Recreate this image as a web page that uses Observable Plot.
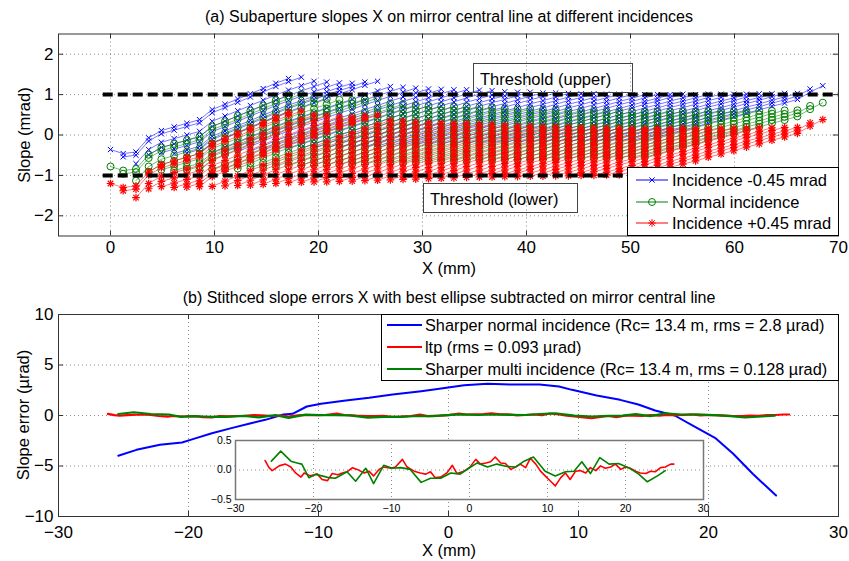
<!DOCTYPE html>
<html><head><meta charset="utf-8">
<script src="https://cdn.jsdelivr.net/npm/d3@7"></script>
<script src="https://cdn.jsdelivr.net/npm/@observablehq/plot@0.6"></script>
<style>
body{margin:0;background:#fff;}
#root{position:relative;width:849px;height:561px;overflow:hidden;background:#fff;font-family:"Liberation Sans",Arial,Helvetica,sans-serif;color:#000;}
#root svg{position:absolute;}
.lbl{position:absolute;white-space:nowrap;line-height:1;}
.box{position:absolute;box-sizing:border-box;border:1.5px solid #444;}
.legend{position:absolute;box-sizing:border-box;border:1px solid #000;background:#fff;}
</style></head><body><div id="root"></div>
<script>
// ---------- (a) subaperture slopes ----------
const columnX = [0,1.22,2.45,3.67,4.89,6.12,7.34,8.56,9.78,11.01,12.23,13.45,14.68,15.9,17.12,18.35,19.57,20.79,22.01,23.24,24.46,25.68,26.91,28.13,29.35,30.58,31.8,33.02,34.24,35.47,36.69,37.91,39.14,40.36,41.58,42.81,44.03,45.25,46.48,47.7,48.92,50.15,51.37,52.59,53.81,55.04,56.26,57.48,58.71,59.93,61.15,62.38,63.6,64.82,66.05,67.27,68.49];
const profileSlope = [-0.78,-0.88,-0.84,-0.49,-0.31,-0.22,-0.13,-0.04,0.21,0.34,0.47,0.60,0.73,0.86,0.98,1.09,1.20,1.31,1.42,1.52,1.63,1.73,1.84,1.94,2.04,2.14,2.24,2.34,2.44,2.53,2.62,2.70,2.79,2.88,2.96,3.05,3.14,3.22,3.31,3.39,3.48,3.56,3.65,3.73,3.82,3.90,3.98,4.07,4.15,4.23,4.32,4.40,4.49,4.57,4.66,4.84,5.00];
const subapertureTilt = [0,0.08,0.29,0.42,0.55,0.66,0.74,0.82,1.06,1.18,1.30,1.42,1.53,1.64,1.74,1.84,1.94,2.05,2.15,2.24,2.34,2.43,2.53,2.62,2.71,2.80,2.89,2.98,3.07,3.15,3.24,3.31,3.40,3.48,3.56,3.64,3.73,3.80,3.89,3.96,4.05,4.12,4.20];
const subapertureLength = 15;
const incidenceNames = ["Incidence -0.45 mrad","Normal incidence","Incidence +0.45 mrad"];
const incidenceShift = [0.42, 0, -0.42];
const incidenceColors = ["#0000ff","#008000","#ff0000"];
const thresholds = [1, -1];
const thresholdLabels = ["Threshold (upper)","Threshold (lower)"];
const topXTicks = [0,10,20,30,40,50,60,70];
const topYTicks = [-2,-1,0,1,2];

// ---------- (b) stitched slope errors ----------
const normalX = [-25.4,-24.0,-22.2,-20.5,-19.6,-18.2,-16.7,-15.2,-14.1,-12.7,-12.0,-10.9,-9.8,-7.9,-6.1,-4.3,-2.1,-0.7,1.2,3.0,4.8,7.0,8.5,9.5,11.4,13.2,14.6,15.9,17.4,19.0,20.5,21.9,23.4,25.2];
const normalY = [-3.99,-3.40,-2.90,-2.67,-2.31,-1.75,-1.25,-0.76,-0.43,0.10,0.17,0.89,1.16,1.49,1.75,2.08,2.41,2.64,3.00,3.14,3.07,3.07,2.87,2.54,1.98,1.55,1.09,0.50,0.00,-1.16,-2.21,-3.79,-5.77,-7.92];
const ltpX = [-26.2,-25.7,-25.3,-24.4,-23.6,-22.9,-22.3,-21.6,-21.2,-20.4,-19.5,-18.9,-18.2,-17.6,-16.9,-16.3,-15.7,-15.0,-14.4,-13.5,-12.9,-12.3,-11.6,-11.0,-10.1,-9.5,-8.6,-8.0,-7.1,-6.3,-5.6,-5.0,-4.4,-3.7,-2.9,-2.2,-1.6,-0.7,0.0,0.8,1.4,2.1,2.7,3.3,4.0,4.6,5.3,5.9,6.5,7.2,7.8,8.5,9.1,9.7,10.4,11.0,11.7,12.3,12.9,13.6,14.2,14.9,15.5,16.2,16.8,17.4,18.1,18.7,19.4,20.0,20.6,21.3,21.9,22.6,23.2,23.8,24.5,25.1,25.8,26.2];
const ltpY = [0.16,0.04,-0.01,0.07,0.10,0.05,-0.05,-0.12,-0.05,-0.10,-0.07,-0.16,-0.18,-0.06,-0.08,-0.05,-0.03,0.04,0.01,-0.05,-0.02,-0.10,0.01,0.05,0.03,0.05,0.18,0.05,-0.02,-0.05,-0.07,-0.03,-0.13,-0.12,-0.05,0.08,-0.06,-0.02,0.04,0.18,0.10,0.12,0.14,0.22,0.12,0.11,0.01,0.05,0.10,0.04,0.20,0.10,-0.02,-0.10,-0.19,-0.27,-0.13,-0.05,-0.16,-0.02,-0.01,-0.05,0.04,-0.01,0.07,0.03,0.05,0.10,0.01,0.05,0.03,-0.02,-0.05,-0.06,-0.02,-0.03,0.04,0.05,0.10,0.10];
const multiX = [-25.4,-24.2,-22.9,-22.1,-21.5,-20.6,-19.7,-18.9,-18.0,-17.2,-15.7,-14.6,-13.3,-12.3,-11.0,-9.9,-8.8,-7.6,-6.2,-5.0,-3.7,-2.4,-1.2,-0.1,1.0,2.3,3.5,4.8,5.9,7.0,8.2,9.7,11.0,12.3,13.4,14.4,15.5,16.7,17.9,19.1,20.4,21.7,22.8,24.1,25.1];
const multiY = [0.15,0.32,0.15,0.12,0.10,-0.13,-0.07,-0.10,-0.13,-0.14,-0.03,-0.19,0.03,-0.23,0.08,0.03,0.04,0.01,-0.21,-0.14,-0.14,-0.05,-0.07,0.03,0.12,0.05,0.10,0.06,0.05,0.15,0.22,-0.02,-0.10,-0.03,-0.02,0.14,-0.06,0.21,0.10,0.11,0.04,-0.07,-0.20,-0.10,-0.01];
const errorNames = ["Sharper normal incidence (Rc= 13.4 m, rms = 2.8 \u00b5rad)","ltp (rms = 0.093 \u00b5rad)","Sharper multi incidence (Rc= 13.4 m, rms = 0.128 \u00b5rad)"];
const errorColors = ["#0000ff","#ff0000","#008000"];
const botXTicks = [-30,-20,-10,0,10,20,30];
const botYTicks = [-10,-5,0,5,10];
const insetYTicks = [-0.5,0,0.5];

const root = document.getElementById("root");
const FONT = '"Liberation Sans", Arial, Helvetica, sans-serif';
const gridStyle = {stroke:"#000", strokeOpacity:0.45, strokeDasharray:"1,3", strokeWidth:1};

// ---- top plot data rows ----
const rows = [];
incidenceNames.forEach((name, s) => subapertureTilt.forEach((t, k) => {
  for (let j = k; j < Math.min(k + subapertureLength, columnX.length); j++)
    rows.push({s, k, x: columnX[j], y: profileSlope[j] - t + incidenceShift[s]});
}));
const seriesMarks = incidenceNames.flatMap((name, s) => {
  const d = rows.filter(r => r.s === s), c = incidenceColors[s];
  const m = [Plot.line(d, {x:"x", y:"y", z:"k", stroke:c, strokeWidth:0.9, strokeOpacity:0.6})];
  if (s === 0) m.push(Plot.dot(d, {x:"x", y:"y", symbol:"times", r:2.5, stroke:c, fill:"none", strokeWidth:1}));
  if (s === 1) m.push(Plot.dot(d, {x:"x", y:"y", symbol:"circle", r:3.5, stroke:c, fill:"none", strokeWidth:1}));
  if (s === 2) {
    m.push(Plot.dot(d, {x:"x", y:"y", symbol:"plus", r:2.6, stroke:c, fill:"none", strokeWidth:1.2}));
    m.push(Plot.dot(d, {x:"x", y:"y", symbol:"times", r:2.6, stroke:c, fill:"none", strokeWidth:1.2}));
  }
  return m;
});

const topPlot = Plot.plot({
  width:849, height:285, marginTop:33.5, marginBottom:49.5, marginLeft:58, marginRight:11,
  x:{domain:[-5,70]}, y:{domain:[-2.5,2.5]},
  style:{fontFamily:FONT, fontSize:"17px", background:"transparent", color:"#000", overflow:"visible"},
  marks:[
    Plot.gridX(topXTicks, gridStyle),
    Plot.gridY(topYTicks, gridStyle),
    ...seriesMarks,
    Plot.ruleY(thresholds, {x1:-0.7, x2:70, stroke:"#000", strokeWidth:4, strokeDasharray:"10,5"}),
    Plot.ruleX(topXTicks, {y1:-2.5, y2:-2.38, stroke:"#333"}),
    Plot.ruleX(topXTicks, {y1:2.5, y2:2.38, stroke:"#333"}),
    Plot.ruleY(topYTicks, {x1:-5, x2:-4.5, stroke:"#333"}),
    Plot.ruleY(topYTicks, {x1:70, x2:69.5, stroke:"#333"}),
    Plot.axisX(topXTicks, {tickSize:0, tickPadding:5, label:null, fontSize:17}),
    Plot.axisY(topYTicks, {tickSize:0, tickPadding:5, label:null, fontSize:17}),
    Plot.frame({stroke:"#333"})
  ]
});
topPlot.style.left = "0px"; topPlot.style.top = "0px";
root.appendChild(topPlot);

// ---- bottom plot ----
const botPlot = Plot.plot({
  width:849, height:276, marginTop:29, marginBottom:45, marginLeft:58, marginRight:11,
  x:{domain:[-30,30]}, y:{domain:[-10,10]},
  style:{fontFamily:FONT, fontSize:"17px", background:"transparent", color:"#000", overflow:"visible"},
  marks:[
    Plot.gridX(botXTicks, gridStyle),
    Plot.gridY(botYTicks, gridStyle),
    Plot.line(normalX, {x:normalX, y:normalY, stroke:errorColors[0], strokeWidth:2}),
    Plot.line(ltpX, {x:ltpX, y:ltpY, stroke:errorColors[1], strokeWidth:2.2}),
    Plot.line(multiX, {x:multiX, y:multiY, stroke:errorColors[2], strokeWidth:2.2}),
    Plot.ruleX(botXTicks, {y1:-10, y2:-9.5, stroke:"#333"}),
    Plot.ruleX(botXTicks, {y1:10, y2:9.5, stroke:"#333"}),
    Plot.ruleY(botYTicks, {x1:-30, x2:-29.6, stroke:"#333"}),
    Plot.ruleY(botYTicks, {x1:30, x2:29.6, stroke:"#333"}),
    Plot.axisX(botXTicks, {tickSize:0, tickPadding:9, label:null, fontSize:17}),
    Plot.axisY(botYTicks, {tickSize:0, tickPadding:5, label:null, fontSize:17}),
    Plot.frame({stroke:"#333"})
  ]
});
botPlot.style.left = "0px"; botPlot.style.top = "285px";
root.appendChild(botPlot);

// ---- inset ----
const insetPlot = Plot.plot({
  width:510, height:86, marginTop:8, marginBottom:19, marginLeft:35, marginRight:7,
  x:{domain:[-30,30]}, y:{domain:[-0.5,0.5]},
  style:{fontFamily:FONT, fontSize:"10.5px", background:"transparent", color:"#000", overflow:"visible"},
  marks:[
    Plot.frame({fill:"#fff", stroke:"none"}),
    Plot.gridX(botXTicks, gridStyle),
    Plot.gridY(insetYTicks, gridStyle),
    Plot.line(ltpX, {x:ltpX, y:ltpY, stroke:errorColors[1], strokeWidth:1.6}),
    Plot.line(multiX, {x:multiX, y:multiY, stroke:errorColors[2], strokeWidth:1.6}),
    Plot.axisX(botXTicks, {tickSize:0, tickPadding:5, label:null, fontSize:10.5}),
    Plot.axisY(insetYTicks, {tickSize:0, tickPadding:4, label:null, fontSize:10.5}),
    Plot.frame({stroke:"#777", strokeWidth:1.5})
  ]
});
insetPlot.style.left = "200px"; insetPlot.style.top = "432px";
root.appendChild(insetPlot);

// ---- text ----
function label(text, cx, cy, size, rot) {
  const d = document.createElement("div");
  d.className = "lbl"; d.textContent = text;
  d.style.left = cx + "px"; d.style.top = cy + "px"; d.style.fontSize = size + "px";
  d.style.transform = "translate(-50%,-50%)" + (rot ? " rotate(-90deg)" : "");
  root.appendChild(d);
}
label("(a) Subaperture slopes X on mirror central line at different incidences", 449, 17, 16);
label("X (mm)", 449, 268, 16.5);
label("Slope (mrad)", 24, 135, 16.5, true);
label("(b) Stithced slope errors X with best ellipse subtracted on mirror central line", 449, 298, 16);
label("X (mm)", 449, 550, 16.5);
label("Slope error (\u00b5rad)", 23, 415, 16.5, true);

function box(text, left, topPx, w, h) {
  const b = document.createElement("div");
  b.className = "box";
  b.style.cssText += `left:${left}px;top:${topPx}px;width:${w}px;height:${h}px;`;
  const t = document.createElement("div");
  t.className = "lbl"; t.textContent = text;
  t.style.cssText += "left:6px;top:7px;font-size:16.5px;";
  b.appendChild(t); root.appendChild(b);
}
box(thresholdLabels[0], 473, 63, 160, 30);
box(thresholdLabels[1], 423, 183, 155, 30);

// ---- legends ----
const NS = "http://www.w3.org/2000/svg";
function legend(left, topPx, w, h, names, colors, rowY, lineX1, lineX2, textX, symbols, size, lw) {
  const L = document.createElement("div");
  L.className = "legend";
  L.style.cssText += `left:${left}px;top:${topPx}px;width:${w}px;height:${h}px;`;
  const svg = document.createElementNS(NS, "svg");
  svg.setAttribute("width", w); svg.setAttribute("height", h);
  svg.style.left = "-1px"; svg.style.top = "-1px";
  names.forEach((n, i) => {
    const y = rowY[i];
    const ln = document.createElementNS(NS, "line");
    ln.setAttribute("x1", lineX1); ln.setAttribute("x2", lineX2);
    ln.setAttribute("y1", y); ln.setAttribute("y2", y);
    ln.setAttribute("stroke", colors[i]); ln.setAttribute("stroke-width", lw);
    svg.appendChild(ln);
    (symbols ? symbols[i] : []).forEach(([sym, r]) => {
      const p = document.createElementNS(NS, "path");
      p.setAttribute("d", d3.symbol(sym, Math.PI * r * r)());
      p.setAttribute("transform", `translate(${(lineX1 + lineX2) / 2},${y})`);
      p.setAttribute("fill", "none"); p.setAttribute("stroke", colors[i]);
      svg.appendChild(p);
    });
    const tx = document.createElementNS(NS, "text");
    tx.setAttribute("x", textX); tx.setAttribute("y", y);
    tx.setAttribute("dy", "0.35em");
    tx.setAttribute("font-family", FONT); tx.setAttribute("font-size", size);
    tx.textContent = n;
    svg.appendChild(tx);
  });
  L.appendChild(svg);
  root.appendChild(L);
}
legend(627, 167, 212, 69, incidenceNames, incidenceColors, [13, 35, 56], 9, 41, 45,
  [[[d3.symbolTimes, 2.5]], [[d3.symbolCircle, 3.5]], [[d3.symbolPlus, 2.6], [d3.symbolTimes, 2.6]]], 16.5, 1);
legend(381, 314, 458, 67, errorNames, errorColors, [11, 33, 55], 6, 41, 44, null, 16.3, 2);
</script></body></html>
